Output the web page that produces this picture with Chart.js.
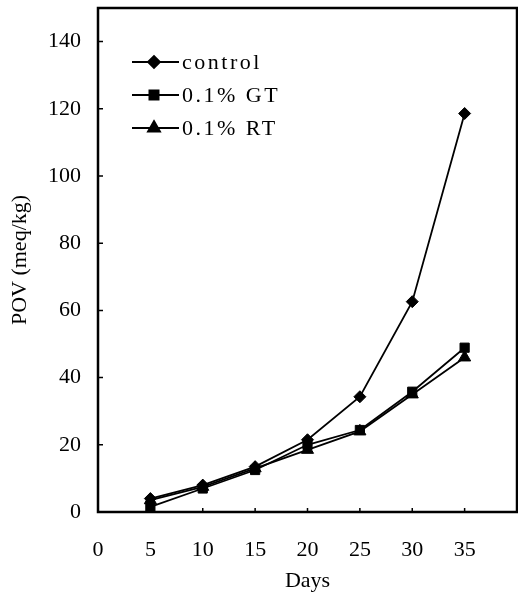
<!DOCTYPE html>
<html>
<head>
<meta charset="utf-8">
<script src="https://cdn.jsdelivr.net/npm/chart.js@4.4.1/dist/chart.umd.min.js"></script>
<style>
  html, body { margin: 0; padding: 0; background: #fff; }
  #wrap { width: 518px; height: 599px; }
</style>
</head>
<body>
<div id="wrap"><canvas id="myChart" width="518" height="599"></canvas></div>
<script>
// data
const days = [5, 10, 15, 20, 25, 30, 35];
const control = [4, 8, 13.5, 21.5, 34.3, 62.6, 118.6];
const gt = [1.5, 7, 12.5, 20, 24.4, 35.8, 48.9];
const rt = [3.5, 7.5, 13, 18.5, 24, 35, 46];
const xTicks = [0, 5, 10, 15, 20, 25, 30, 35];
const yTicks = [0, 20, 40, 60, 80, 100, 120, 140];

const serif = "'Liberation Serif', 'DejaVu Serif', serif";

function pairs(ys) {
  return days.map((d, i) => ({ x: d, y: ys[i] }));
}

function series(label, ys, style, radius) {
  return {
    label: label,
    data: pairs(ys),
    borderColor: '#000',
    backgroundColor: '#000',
    borderWidth: 1.8,
    pointStyle: style,
    pointRadius: radius,
    pointBorderWidth: 1,
    tension: 0
  };
}

// box around the plot plus small inward tick marks
const framePlugin = {
  id: 'frame',
  afterDraw(chart) {
    const ctx = chart.ctx;
    const a = chart.chartArea;
    const xs = chart.scales.x, ys = chart.scales.y;
    ctx.save();
    ctx.strokeStyle = '#000';
    ctx.lineWidth = 1.5;
    ctx.beginPath();
    yTicks.forEach(v => {
      const py = ys.getPixelForValue(v);
      ctx.moveTo(a.left, py);
      ctx.lineTo(a.left + 5, py);
    });
    xTicks.forEach(v => {
      const px = xs.getPixelForValue(v);
      ctx.moveTo(px, a.bottom);
      ctx.lineTo(px, a.bottom - 4);
    });
    ctx.stroke();
    ctx.lineWidth = 2.5;
    ctx.strokeRect(a.left, a.top, a.right - a.left, a.bottom - a.top);
    ctx.restore();
  }
};

// legend drawn inside the plot, top left
const legendPlugin = {
  id: 'insideLegend',
  afterDraw(chart) {
    const ctx = chart.ctx;
    const a = chart.chartArea;
    ctx.save();
    chart.data.datasets.forEach((ds, i) => {
      const y = a.top + 54 + i * 33;
      const x0 = a.left + 34;
      ctx.strokeStyle = '#000';
      ctx.fillStyle = '#000';
      ctx.lineWidth = 1.8;
      ctx.beginPath();
      ctx.moveTo(x0, y);
      ctx.lineTo(x0 + 47, y);
      ctx.stroke();
      Chart.helpers.drawPoint(ctx, {
        pointStyle: ds.pointStyle,
        radius: ds.pointRadius,
        rotation: 0,
        borderWidth: 1
      }, x0 + 22, y);
      ctx.font = '22px ' + serif;
      ctx.textBaseline = 'middle';
      ctx.textAlign = 'left';
      ctx.letterSpacing = '2.5px';
      ctx.fillText(ds.label, x0 + 50, y + 1);
    });
    ctx.restore();
  }
};

new Chart(document.getElementById('myChart').getContext('2d'), {
  type: 'line',
  data: {
    datasets: [
      series('control', control, 'rectRot', 6),
      series('0.1% GT', gt, 'rect', 6.5),
      series('0.1% RT', rt, 'triangle', 7)
    ]
  },
  options: {
    responsive: false,
    animation: false,
    layout: { autoPadding: false, padding: { top: 8, right: 1, left: 0, bottom: 0 } },
    plugins: {
      legend: { display: false },
      tooltip: { enabled: false }
    },
    scales: {
      x: {
        type: 'linear',
        min: 0,
        max: 40,
        afterBuildTicks(axis) {
          axis.ticks = xTicks.map(v => ({ value: v }));
        },
        afterFit(axis) {
          axis.height = 87;
          axis.paddingLeft = 0;
          axis.paddingRight = 0;
        },
        grid: { display: false, drawTicks: false },
        border: { display: false },
        ticks: {
          color: '#000',
          padding: 25,
          maxRotation: 0,
          font: { family: serif, size: 22 }
        },
        title: {
          display: true,
          text: 'Days',
          color: '#000',
          padding: 5,
          font: { family: serif, size: 22 }
        }
      },
      y: {
        min: 0,
        max: 150,
        afterBuildTicks(axis) {
          axis.ticks = yTicks.map(v => ({ value: v }));
        },
        afterFit(axis) {
          axis.width = 98;
          axis.paddingTop = 0;
          axis.paddingBottom = 0;
        },
        grid: { display: false, drawTicks: false },
        border: { display: false },
        ticks: {
          color: '#000',
          padding: 17,
          font: { family: serif, size: 22 }
        },
        title: {
          display: true,
          text: 'POV (meq/kg)',
          color: '#000',
          padding: 7,
          font: { family: serif, size: 22 }
        }
      }
    }
  },
  plugins: [framePlugin, legendPlugin]
});
</script>
</body>
</html>
